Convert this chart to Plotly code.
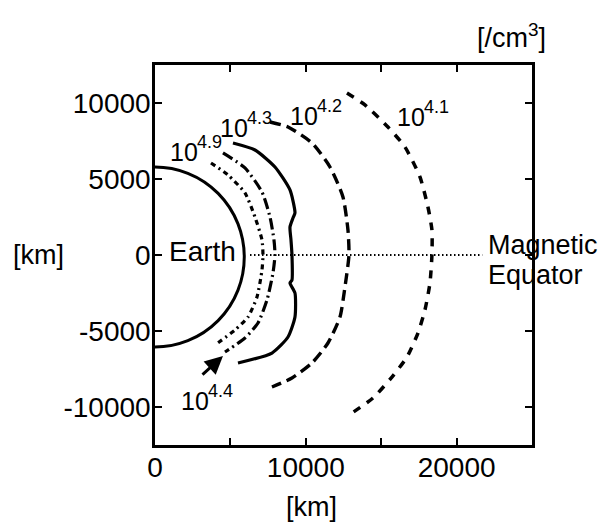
import plotly.graph_objects as go

# Contour traces (x [km], y [km])
c49_x = [3713, 4840, 5967, 6630, 7094, 7160, 7094, 6763, 6166, 5304, 3978]
c49_y = [6054, 5264, 4080, 2500, 987, 0, -987, -2764, -4080, -4935, -5922]

c44_x = [4508, 5967, 7094, 7625, 7890, 7956, 7823, 7426, 6829, 5967, 4641]
c44_y = [6712, 5725, 4145, 2500, 987, 0, -1184, -2961, -4474, -5461, -6382]

c43_x = [5171, 6630, 7956, 8951, 9282, 9149, 8951, 9017, 9083, 9083, 8951, 9282, 9282, 8818, 7757, 5503]
c43_y = [7370, 6909, 5790, 4277, 2764, 2435, 1842, 987, 0, -1645, -1842, -2500, -4080, -5396, -6448, -7106]

c42_x = [7625, 8818, 10409, 11603, 12464, 12796, 12862, 12597, 12265, 11470, 10409, 9083, 7757]
c42_y = [8751, 8422, 7370, 5790, 3816, 1645, 0, -2106, -4080, -5790, -7106, -8093, -8686]

c41_x = [12730, 13923, 15448, 16575, 17570, 18100, 18365, 18365, 18233, 17901, 17437, 16708, 15713, 14453, 13061]
c41_y = [10660, 9870, 8422, 7106, 5132, 3158, 1645, 0, -1842, -3619, -5132, -6712, -8028, -9409, -10396]

equator_x = [6300, 21700]
equator_y = [0, 0]

earth_box = [-5920, 5920, -6050, 5790]  # x0, x1, y0, y1

label_base = ["10", "10", "10", "10", "10"]
label_exp = ["4.9", "4.3", "4.2", "4.1", "4.4"]
label_x = [862, 4180, 8818, 15912, 1591]
label_y = [6777, 8357, 9146, 9080, -9607]

arrow_tail = (3050, -7960)
arrow_tip = (4508, -6646)

x_tickvals = [0, 5000, 10000, 15000, 20000, 25000]
x_ticktext = ["0", "", "10000", "", "20000", ""]
y_tickvals = [-10000, -5000, 0, 5000, 10000]
y_ticktext = ["-10000", "-5000", "0", "5000", "10000"]

FONT = "Liberation Sans, Arial, sans-serif"
# page has an 8px body margin; figure is sized so the plot lands at page px (155..532, 65..445)
OFF = 8
W, H = 600, 518
L, R, T, B = 147, 76, 57, 81
pw, ph = W - L - R, H - T - B


def px2paper(px, py):
    return (px - OFF - L) / pw, 1 - (py - OFF - T) / ph


fig = go.Figure()


def add(x, y, dash, w=3.2):
    fig.add_trace(go.Scatter(x=x, y=y, mode="lines",
                             line=dict(color="black", width=w, dash=dash, shape="spline", smoothing=0.6),
                             showlegend=False, hoverinfo="skip"))


add(c49_x, c49_y, "5px,4px,2px,4px")
add(c44_x, c44_y, "11px,4px,2px,4px")
add(c43_x, c43_y, "solid")
add(c42_x, c42_y, "11px,6px", 3.4)
add(c41_x, c41_y, "8px,8px", 3.5)
fig.add_trace(go.Scatter(x=equator_x, y=equator_y, mode="lines",
                         line=dict(color="black", width=1.8, dash="1.5px,2.5px"),
                         showlegend=False, hoverinfo="skip"))

fig.add_shape(type="circle", xref="x", yref="y",
              x0=earth_box[0], x1=earth_box[1], y0=earth_box[2], y1=earth_box[3],
              line=dict(color="black", width=3))

for b, e, x, y in zip(label_base, label_exp, label_x, label_y):
    fig.add_annotation(x=x, y=y, text=b, showarrow=False, xanchor="left", yanchor="middle",
                       font=dict(family=FONT, size=25, color="black"), xref="x", yref="y")
    fig.add_annotation(x=x, y=y, text=e, showarrow=False, xanchor="left", yanchor="middle",
                       xshift=27, yshift=10,
                       font=dict(family=FONT, size=18, color="black"), xref="x", yref="y")

fig.add_annotation(x=arrow_tip[0], y=arrow_tip[1], ax=arrow_tail[0], ay=arrow_tail[1],
                   xref="x", yref="y", axref="x", ayref="y", text="", showarrow=True,
                   arrowhead=2, arrowsize=1.2, arrowwidth=3, arrowcolor="black")

fig.add_annotation(x=796, y=263, text="Earth", showarrow=False, xanchor="left", yanchor="middle",
                   font=dict(family=FONT, size=28, color="black"), xref="x", yref="y")

for text, px, py, anchor in [("Magnetic", 486, 245, "left"), ("Equator", 486, 275, "left"),
                             ("[/cm<sup>3</sup>]", 511, 36, "center"), ("[km]", 38, 255, "center"),
                             ("[km]", 311, 507, "center")]:
    x, y = px2paper(px, py)
    fig.add_annotation(x=x, y=y, text=text, showarrow=False, xanchor=anchor, yanchor="middle",
                       xref="paper", yref="paper", font=dict(family=FONT, size=27, color="black"))

fig.update_layout(
    width=W, height=H, autosize=False,
    margin=dict(l=L, r=R, t=T, b=B),
    plot_bgcolor="white", paper_bgcolor="white",
    font=dict(family=FONT, size=28, color="black"),
    xaxis=dict(range=[0, 25000], tickvals=x_tickvals, ticktext=x_ticktext,
               showline=True, linecolor="black", linewidth=2.5, mirror="ticks",
               ticks="inside", ticklen=7, tickwidth=2, tickcolor="black",
               showgrid=False, zeroline=False, tickfont=dict(size=28),
               ticklabelstandoff=-4),
    yaxis=dict(range=[-12500, 12500], tickvals=y_tickvals, ticktext=y_ticktext,
               showline=True, linecolor="black", linewidth=2.5, mirror="ticks",
               ticks="inside", ticklen=7, tickwidth=2, tickcolor="black",
               showgrid=False, zeroline=False, tickfont=dict(size=28),
               ticklabelstandoff=-4),
)

fig.write_html("out.html")
